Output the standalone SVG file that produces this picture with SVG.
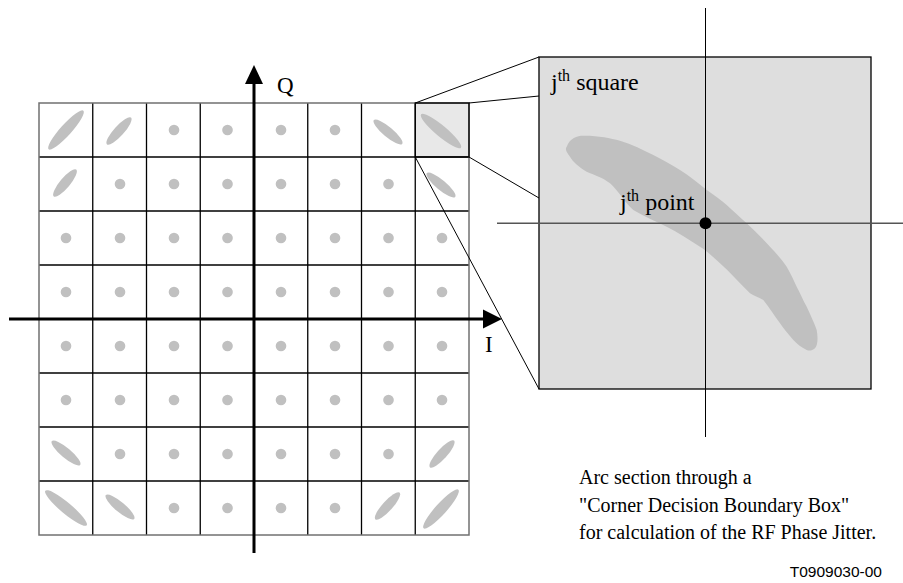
<svg xmlns="http://www.w3.org/2000/svg" width="903" height="583" viewBox="0 0 903 583">
<style>
.dot{fill:#c0c0c0}
.blob{fill:#c0c0c0}
.gl{stroke:#000;stroke-width:1.3;fill:none}
.gb{stroke:#707070;stroke-width:1.5;fill:none}
.ax{stroke:#000;stroke-width:3;fill:none}
.cn{stroke:#000;stroke-width:1;fill:none}
.t{font-family:"Liberation Serif","Times New Roman",serif;fill:#000}
.s{font-family:"Liberation Sans",Arial,sans-serif;fill:#000}
</style>
<rect width="903" height="583" fill="#fff"/>
<g id="grid">
<rect x="415.25" y="103" width="53.75" height="54" fill="#e8e8e8"/>
<g class="gl">
<line x1="92.75" y1="103" x2="92.75" y2="535"/>
<line x1="146.5" y1="103" x2="146.5" y2="535"/>
<line x1="200.25" y1="103" x2="200.25" y2="535"/>
<line x1="307.75" y1="103" x2="307.75" y2="535"/>
<line x1="361.5" y1="103" x2="361.5" y2="535"/>
<line x1="415.25" y1="103" x2="415.25" y2="535"/>
<line x1="39" y1="157" x2="469" y2="157"/>
<line x1="39" y1="211" x2="469" y2="211"/>
<line x1="39" y1="265" x2="469" y2="265"/>
<line x1="39" y1="373" x2="469" y2="373"/>
<line x1="39" y1="427" x2="469" y2="427"/>
<line x1="39" y1="481" x2="469" y2="481"/>
</g>
<rect class="gb" x="39" y="103" width="430" height="432"/>
<rect class="gl" x="415.25" y="103" width="53.75" height="54"/>
</g>
<g id="points">
<g class="dot">
<circle cx="174" cy="130" r="5.3"/><circle cx="227.5" cy="130" r="5.3"/><circle cx="281" cy="130" r="5.3"/><circle cx="335" cy="130" r="5.3"/>
<circle cx="120" cy="184" r="5.3"/><circle cx="174" cy="184" r="5.3"/><circle cx="227.5" cy="184" r="5.3"/><circle cx="281" cy="184" r="5.3"/><circle cx="335" cy="184" r="5.3"/><circle cx="388.5" cy="184" r="5.3"/>
<circle cx="66" cy="238" r="5.3"/><circle cx="120" cy="238" r="5.3"/><circle cx="174" cy="238" r="5.3"/><circle cx="227.5" cy="238" r="5.3"/><circle cx="281" cy="238" r="5.3"/><circle cx="335" cy="238" r="5.3"/><circle cx="388.5" cy="238" r="5.3"/><circle cx="442" cy="238" r="5.3"/>
<circle cx="66" cy="292" r="5.3"/><circle cx="120" cy="292" r="5.3"/><circle cx="174" cy="292" r="5.3"/><circle cx="227.5" cy="292" r="5.3"/><circle cx="281" cy="292" r="5.3"/><circle cx="335" cy="292" r="5.3"/><circle cx="388.5" cy="292" r="5.3"/><circle cx="442" cy="292" r="5.3"/>
<circle cx="66" cy="346" r="5.3"/><circle cx="120" cy="346" r="5.3"/><circle cx="174" cy="346" r="5.3"/><circle cx="227.5" cy="346" r="5.3"/><circle cx="281" cy="346" r="5.3"/><circle cx="335" cy="346" r="5.3"/><circle cx="388.5" cy="346" r="5.3"/><circle cx="442" cy="346" r="5.3"/>
<circle cx="66" cy="400" r="5.3"/><circle cx="120" cy="400" r="5.3"/><circle cx="174" cy="400" r="5.3"/><circle cx="227.5" cy="400" r="5.3"/><circle cx="281" cy="400" r="5.3"/><circle cx="335" cy="400" r="5.3"/><circle cx="388.5" cy="400" r="5.3"/><circle cx="442" cy="400" r="5.3"/>
<circle cx="120" cy="454" r="5.3"/><circle cx="174" cy="454" r="5.3"/><circle cx="227.5" cy="454" r="5.3"/><circle cx="281" cy="454" r="5.3"/><circle cx="335" cy="454" r="5.3"/><circle cx="388.5" cy="454" r="5.3"/>
<circle cx="174" cy="508" r="5.3"/><circle cx="227.5" cy="508" r="5.3"/><circle cx="281" cy="508" r="5.3"/><circle cx="335" cy="508" r="5.3"/>
</g>
<g class="blob">
<ellipse cx="66" cy="130" rx="26" ry="5.5" transform="rotate(-48 66 130)"/>
<ellipse cx="119" cy="131" rx="18" ry="5" transform="rotate(-48 119 131)"/>
<ellipse cx="388" cy="132" rx="18.5" ry="5" transform="rotate(40 388 132)"/>
<ellipse cx="441" cy="131" rx="26" ry="5.5" transform="rotate(40 441 131)"/>
<ellipse cx="65" cy="183" rx="17.5" ry="5" transform="rotate(-50 65 183)"/>
<ellipse cx="441" cy="185" rx="18.5" ry="5" transform="rotate(40 441 185)"/>
<ellipse cx="66" cy="453" rx="18.5" ry="5" transform="rotate(40 66 453)"/>
<ellipse cx="442" cy="454" rx="18" ry="5" transform="rotate(-48 442 454)"/>
<ellipse cx="66" cy="508" rx="27" ry="5.5" transform="rotate(40 66 508)"/>
<ellipse cx="120" cy="507" rx="18.5" ry="5" transform="rotate(40 120 507)"/>
<ellipse cx="387.5" cy="506" rx="18" ry="5" transform="rotate(-48 387.5 506)"/>
<ellipse cx="441" cy="509" rx="26" ry="5.5" transform="rotate(-48 441 509)"/>
</g>
</g>
<g id="axes">
<line class="ax" x1="254" y1="553" x2="254" y2="82"/>
<polygon points="245,84 254,65 263,84" fill="#000"/>
<line class="ax" x1="9" y1="319" x2="485" y2="319"/>
<polygon points="483,309.5 502,319 483,328.5" fill="#000"/>
<text class="t" x="277" y="93" font-size="23">Q</text>
<text class="t" x="485" y="352" font-size="23">I</text>
</g>
<g id="connectors">
<line class="cn" x1="415.25" y1="103" x2="539" y2="57"/>
<line class="cn" x1="469" y1="103" x2="539" y2="96"/>
<line class="cn" x1="469" y1="157" x2="539" y2="198"/>
<line class="cn" x1="415.25" y1="157" x2="539" y2="389"/>
</g>
<g id="zoom-square">
<rect x="539" y="57" width="332" height="332" fill="#dedede" stroke="#000" stroke-width="1.3"/>
<path class="blob" d="M566.7,146.7 C570,138 577,135.7 583.3,135.7 C598,135.5 610,138 620,140.7 C632,144 643,150 653.3,155 C663,160 672,165 680,170 C690,176 698,183 706.7,190 C714,195 721,200 726.7,205 C733,211 740,217 746.7,223.3 C755,231 763,239 770,246.7 C777,254 782,260 786.7,266.7 C791,274 794,281 796.7,286.7 C800,293 803,300 806.7,306.7 C810,314 814,322 816.7,330 C818,337 818,345 815,348.3 C812,351 809,351 806.7,350 C801,347 797,344 793.3,340 C788,334 784,329 780,323.3 C774,315 769,307 763.3,300 C758,297 754,296 750,293.3 C740,284 730,272 720,263.3 C713,257 707,251 700,246.7 C689,240 678,232 666.7,226.7 C655,221 643,216 633.3,210 C624,202 618,190 610,183.3 C602,177 594,175 586.7,171.7 C579,167 573,162 570,156.7 C566,152 565,149 566.7,146.7 Z"/>
<line x1="705.5" y1="8" x2="705.5" y2="437" stroke="#000" stroke-width="1"/>
<line x1="497" y1="223.3" x2="903" y2="223.3" stroke="#555" stroke-width="1.5"/>
<circle cx="705.5" cy="223.3" r="6" fill="#000"/>
<text class="t" x="551" y="90" font-size="24">j<tspan font-size="16" dy="-9">th</tspan><tspan dy="9"> square</tspan></text>
<text class="t" x="620" y="210" font-size="24">j<tspan font-size="16" dy="-9">th</tspan><tspan dy="9"> point</tspan></text>
</g>
<g id="caption">
<text class="t" x="579" y="484" font-size="20">Arc section through a</text>
<text class="t" x="579" y="511.5" font-size="20">"Corner Decision Boundary Box"</text>
<text class="t" x="579" y="539" font-size="20">for calculation of the RF Phase Jitter.</text>
<text class="s" x="882" y="577" font-size="15.5" text-anchor="end">T0909030-00</text>
</g>
</svg>
